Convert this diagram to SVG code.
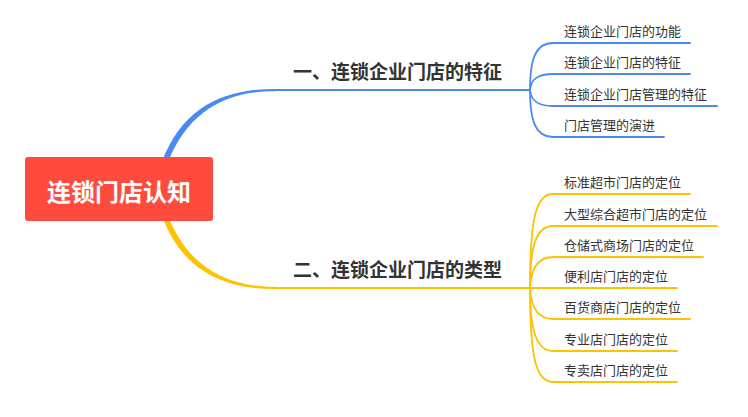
<svg xmlns="http://www.w3.org/2000/svg" width="748" height="417" viewBox="0 0 748 417">
<style>
.blue{fill:none;stroke:#4A8AF4;stroke-width:1.8;stroke-linecap:round}
.yel{fill:none;stroke:#FDC300;stroke-width:1.8;stroke-linecap:round}
.main{font-family:"Noto Sans CJK SC","Liberation Sans",sans-serif;font-size:19px;font-weight:bold;fill:#333}
.sub{font-family:"Noto Sans CJK SC","Liberation Sans",sans-serif;font-size:13px;fill:#333}
.root{font-family:"Noto Sans CJK SC","Liberation Sans",sans-serif;font-size:24px;font-weight:bold;fill:#fff}
</style>
<rect width="748" height="417" fill="#fff"/>
<g id="connectors">
<path d="M162,162 C182,108 223,88.8 275,89 L275,91.2 C225,91.2 188,112 168,162 Z" fill="#4A8AF4"/>
<path d="M162,216 C182,270 223,289.2 275,289 L275,286.8 C225,286.8 188,266 168,216 Z" fill="#FDC300"/>
<path class="blue" d="M274,90 L530,90"/>
<path class="yel" d="M274,288 L530,288"/>
<path class="blue" d="M530,90 C530,58 536,43 553,43 L690,43"/>
<path class="blue" d="M530,90 C531,79 538,74 553,74 L690,74"/>
<path class="blue" d="M530,90 C531,101 538,106 553,106 L717,106"/>
<path class="blue" d="M530,90 C530,122 536,137 553,137 L664,137"/>
<path class="yel" d="M530,288 C530,218 536,194 553,194 L690,194"/>
<path class="yel" d="M530,288 C530,244 537,226 553,226 L717,226"/>
<path class="yel" d="M530,288 C531,268 538,257 553,257 L703,257"/>
<path class="yel" d="M530,288 L677,288"/>
<path class="yel" d="M530,288 C531,308 538,319 553,319 L690,319"/>
<path class="yel" d="M530,288 C530,332 537,351 553,351 L677,351"/>
<path class="yel" d="M530,288 C530,358 536,382 553,382 L677,382"/>
</g>
<g id="root">
<rect x="25" y="157" width="188" height="64" rx="3" fill="#FF4B3E"/>
<text class="root" x="119" y="201" text-anchor="middle">连锁门店认知</text>
</g>
<g id="branch1"><text class="main" x="293" y="79">一、连锁企业门店的特征</text></g>
<g id="branch2"><text class="main" x="293" y="277">二、连锁企业门店的类型</text></g>
<g id="b1c1"><text class="sub" x="564" y="36">连锁企业门店的功能</text></g>
<g id="b1c2"><text class="sub" x="564" y="67">连锁企业门店的特征</text></g>
<g id="b1c3"><text class="sub" x="564" y="99">连锁企业门店管理的特征</text></g>
<g id="b1c4"><text class="sub" x="564" y="130">门店管理的演进</text></g>
<g id="b2c1"><text class="sub" x="564" y="187">标准超市门店的定位</text></g>
<g id="b2c2"><text class="sub" x="564" y="219">大型综合超市门店的定位</text></g>
<g id="b2c3"><text class="sub" x="564" y="250">仓储式商场门店的定位</text></g>
<g id="b2c4"><text class="sub" x="564" y="281">便利店门店的定位</text></g>
<g id="b2c5"><text class="sub" x="564" y="312">百货商店门店的定位</text></g>
<g id="b2c6"><text class="sub" x="564" y="344">专业店门店的定位</text></g>
<g id="b2c7"><text class="sub" x="564" y="375">专卖店门店的定位</text></g>
</svg>
